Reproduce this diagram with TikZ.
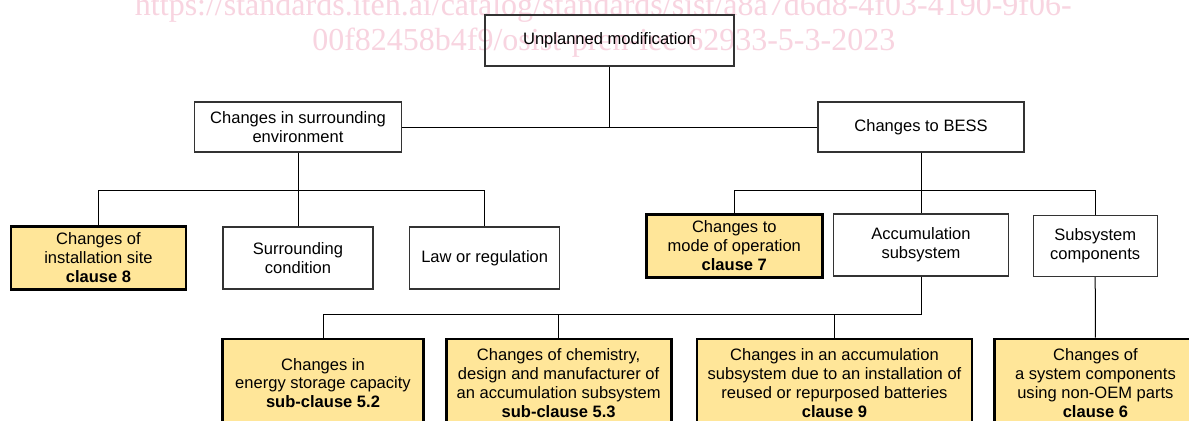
\documentclass[tikz,border=0pt]{standalone}
\usepackage{fontspec}
\setmainfont{Liberation Sans}
\newfontfamily\wmfont{Liberation Serif}
\definecolor{boxyellow}{HTML}{FFE699}
\definecolor{wmpink}{RGB}{248,212,224}
\definecolor{boxline}{HTML}{333333}
\tikzset{
  plainbox/.style={draw=boxline, line width=0.9pt, align=center, inner sep=0pt,
    font=\fontsize{12.4pt}{14.1pt}\selectfont},
  clausebox/.style={draw=black, line width=2.2pt, fill=boxyellow, align=center, inner sep=0pt,
    font=\fontsize{12.4pt}{14.1pt}\selectfont},
  wire/.style={draw=black, line width=0.75pt},
  wmark/.style={text=wmpink, font=\wmfont\fontsize{24pt}{26pt}\selectfont, inner sep=0pt, anchor=base west}
}
\begin{document}
\begin{tikzpicture}[x=0.75pt, y=-0.75pt]
\useasboundingbox (0,0) rectangle (1189,421);
\clip (0,0) rectangle (1189,421);
\fill[white] (0,0) rectangle (1189,421);
% watermark
\node[wmark] (wm1) at (134.7,15) {https://standards.iteh.ai/catalog/standards/sist/a8a7d6d8-4f03-4190-9f06-};
\node[wmark] (wm2) at (312,50) {00f82458b4f9/osist-pren-iec-62933-5-3-2023};
% boxes
\node[plainbox, minimum width=249*0.75pt, minimum height=51*0.75pt] (top) at (609.5,40.5) {Unplanned modification};
\node[plainbox, minimum width=207*0.75pt, minimum height=50*0.75pt] (env) at (298,127) {Changes in surrounding\\environment};
\node[plainbox, minimum width=206*0.75pt, minimum height=50*0.75pt] (bess) at (921,127) {Changes to BESS};
\node[clausebox, minimum width=175*0.75pt, minimum height=63*0.75pt] (inst) at (98.5,257.7) {Changes of\\installation site\\\textbf{clause 8}};
\node[plainbox, minimum width=150*0.75pt, minimum height=62*0.75pt] (cond) at (298,258) {Surrounding\\condition};
\node[plainbox, minimum width=150*0.75pt, minimum height=62*0.75pt] (law) at (484.7,258) {Law or regulation};
\node[clausebox, minimum width=175.5*0.75pt, minimum height=63*0.75pt] (mode) at (734.3,245.7) {Changes to\\mode of operation\\\textbf{clause 7}};
\node[plainbox, minimum width=174.6*0.75pt, minimum height=62*0.75pt] (acc) at (921,245) {Accumulation\\subsystem};
\node[plainbox, minimum width=124*0.75pt, minimum height=61*0.75pt] (subs) at (1095.2,246) {Subsystem\\components};
\node[clausebox, minimum width=201*0.75pt, minimum height=88*0.75pt] (energy) at (323,383) {Changes in\\energy storage capacity\\\textbf{sub-clause 5.2}};
\node[clausebox, minimum width=225*0.75pt, minimum height=88*0.75pt] (chem) at (558.6,383) {Changes of chemistry,\\design and manufacturer of\\an accumulation subsystem\\\textbf{sub-clause 5.3}};
\node[clausebox, minimum width=275*0.75pt, minimum height=88*0.75pt] (reuse) at (834.5,383) {Changes in an accumulation\\subsystem due to an installation of\\reused or repurposed batteries\\\textbf{clause 9}};
\node[clausebox, minimum width=201*0.75pt, minimum height=88*0.75pt] (oem) at (1095.4,383) {Changes of\\a system components\\using non-OEM parts\\\textbf{clause 6}};
% bus coordinates
\coordinate (busA) at (0,190);
\coordinate (busB) at (0,190);
\coordinate (busC) at (0,314.3);
% connectors
\draw[wire] (env.east) -- (bess.west);
\draw[wire] (top.south) -- (top.south |- env.east);
\draw[wire] (env.south) -- (env.south |- busA);
\draw[wire] (inst.north) |- (busA -| law.north) -- (law.north);
\draw[wire] (busA -| cond.north) -- (cond.north);
\draw[wire] (bess.south) -- (bess.south |- busB);
\draw[wire] (mode.north) |- (busB -| subs.north) -- (subs.north);
\draw[wire] (busB -| acc.north) -- (acc.north);
\draw[wire] (acc.south) |- (busC -| energy.north) -- (energy.north);
\draw[wire] (busC -| chem.north) -- (chem.north);
\draw[wire] (busC -| reuse.north) -- (reuse.north);
\draw[wire] (subs.south) -- (oem.north);
\end{tikzpicture}
\end{document}
